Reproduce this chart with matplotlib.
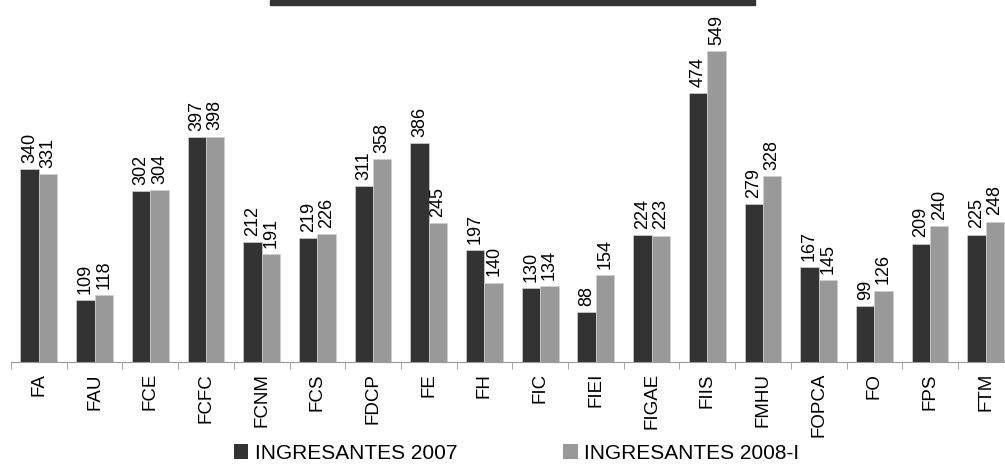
import matplotlib.pyplot as plt
import numpy as np
from matplotlib.patches import Rectangle, Patch

plt.rcParams['font.family'] = ['Liberation Sans', 'DejaVu Sans']

facultades = ['FA', 'FAU', 'FCE', 'FCFC', 'FCNM', 'FCS', 'FDCP', 'FE', 'FH', 'FIC',
              'FIEI', 'FIGAE', 'FIIS', 'FMHU', 'FOPCA', 'FO', 'FPS', 'FTM']
ing_2007 = [340, 109, 302, 397, 212, 219, 311, 386, 197, 130,
            88, 224, 474, 279, 167, 99, 209, 225]
ing_2008 = [331, 118, 304, 398, 191, 226, 358, 245, 140, 134,
            154, 223, 549, 328, 145, 126, 240, 248]
series_names = ['INGRESANTES 2007', 'INGRESANTES 2008-I']

dark = '#333333'
light = '#999999'

fig = plt.figure(figsize=(10.05, 4.72), dpi=100)
ax = fig.add_axes([11 / 1005, 110 / 472, 1002.6 / 1005, 362 / 472])

x = np.arange(len(facultades))
w = 0.33
b1 = ax.bar(x - w / 2, ing_2007, w, color=dark, edgecolor='#d0d0d0', linewidth=0.5)
b2 = ax.bar(x + w / 2, ing_2008, w, color=light, edgecolor='#d0d0d0', linewidth=0.5)

for bars in (b1, b2):
    for r in bars:
        ax.annotate(str(int(r.get_height())), (r.get_x() + r.get_width() / 2, r.get_height()),
                    xytext=(0, 4.5), textcoords='offset points', rotation=90,
                    ha='center', va='bottom', fontsize=13)

ax.set_xlim(-0.5, len(facultades) - 0.5)
ax.set_ylim(0, 639)
ax.set_yticks([])
for s in ['top', 'right', 'left']:
    ax.spines[s].set_visible(False)
ax.spines['bottom'].set_color('#999999')

ax.set_xticks(x)
ax.set_xticklabels(facultades, rotation=90, fontsize=13.5)
ax.tick_params(axis='x', which='major', length=0, pad=8)
ax.set_xticks(np.arange(len(facultades)) - 0.5, minor=True)
ax.tick_params(axis='x', which='minor', length=5, color='#999999')

handles = [Patch(facecolor=dark), Patch(facecolor=light)]
fig.legend(handles, series_names, loc='center', bbox_to_anchor=(0.514, 0.04),
           ncol=2, frameon=False, fontsize=15, handlelength=0.7, handleheight=0.7,
           handletextpad=0.3, columnspacing=5.1)

# dark strip at top (cut-off title box)
fig.patches.append(Rectangle((270 / 1005, 1 - 4.5 / 472), 485 / 1005, 4.5 / 472,
                             transform=fig.transFigure, color=dark))

fig.savefig('out.png', dpi=100)
